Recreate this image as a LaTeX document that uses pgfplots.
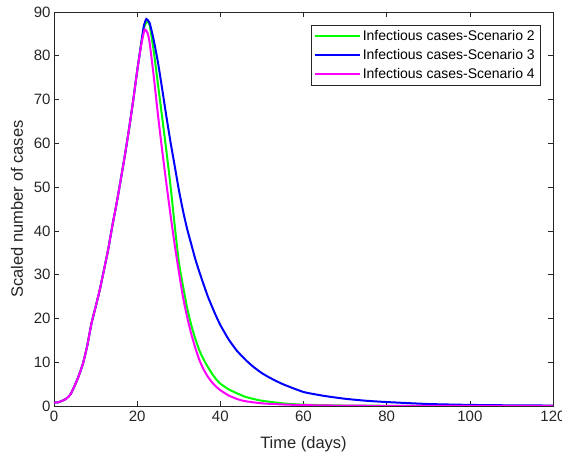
\documentclass[border=0pt]{standalone}
\usepackage{pgfplots}
\pgfplotsset{compat=1.18}
\usepackage{fontspec}
\setmainfont{Liberation Sans}
\definecolor{axcol}{RGB}{38,38,38}
\begin{document}
\begin{tikzpicture}
\begin{axis}[
  scale only axis,
  width=499bp, height=394bp,
  xmin=0, xmax=120, ymin=0, ymax=90,
  xtick={0,20,...,120}, ytick={0,10,...,90},
  tick align=inside,
  major tick length=5bp,
  axis line style={axcol, line width=0.6bp},
  every tick/.style={axcol, line width=0.6bp},
  tick label style={font=\fontsize{15bp}{17bp}\selectfont, text=axcol},
  xticklabel style={yshift=-2bp},
  /pgf/number format/assume math mode=true,
  xlabel={Time (days)}, ylabel={Scaled number of cases},
  label style={font=\fontsize{16.5bp}{19bp}\selectfont, text=axcol},
  xlabel style={at={(axis description cs:0.5,-0.0964)}, anchor=center},
  ylabel style={at={(axis description cs:-0.0741,0.5)}, anchor=center},
  legend cell align=left,
  legend style={at={(1,1)}, anchor=north east, xshift=-13bp, yshift=-13bp,
    draw=axcol, line width=0.5bp, font=\fontsize{14bp}{16bp}\selectfont,
    inner sep=3bp, row sep=3.5bp},
  legend image code/.code={\draw[#1, line width=2bp] (0bp,0bp) -- (45bp,0bp);},
]
\addplot[color={rgb,1:red,0;green,1;blue,0}, line width=2bp, smooth, tension=0.3] coordinates {
(0,0.78)(1,0.85)(2,1.2)(3,1.7)(4,2.7)(5,4.7)(6,7.0)(7,9.8)(8,13.8)(9,18.8)(10,22.6)(11,26.5)(12,31.0)(13,35.6)(14,41.0)(15,46.0)(16,51.4)(17,57.0)(18,63.0)(19,69.5)(20,76.5)(21,83.0)(21.7,86.6)(22.4,87.9)(23,87.0)(24,81.0)(25,73.5)(26,66.0)(27,58.5)(28,50.5)(29,41.5)(30,33.0)(31,27.5)(32,22.5)(33,18.5)(34,15.3)(35,12.6)(36,10.6)(37,8.9)(38,7.4)(39,6.1)(40,5.1)(42,3.8)(44,2.9)(46,2.1)(48,1.6)(50,1.2)(55,0.6)(60,0.3)(70,0.1)(80,0.05)(100,0.03)(120,0.02)
};
\addlegendentry{Infectious cases-Scenario 2}
\addplot[color={rgb,1:red,0;green,0;blue,1}, line width=2bp, smooth, tension=0.3] coordinates {
(0,0.78)(1,0.85)(2,1.2)(3,1.7)(4,2.7)(5,4.7)(6,7.0)(7,9.8)(8,13.8)(9,18.8)(10,22.6)(11,26.5)(12,31.0)(13,35.6)(14,41.0)(15,46.0)(16,51.4)(17,57.0)(18,63.0)(19,69.5)(20,76.5)(21,83.0)(21.6,86.8)(22.2,88.4)(23,87.5)(24,83.5)(25,78.5)(26,72.5)(27,66.3)(28,60.4)(29,55.0)(30,49.5)(31,44.7)(32,40.5)(33,37.0)(34,33.5)(35,30.5)(36,27.7)(37,25.0)(38,22.7)(39,20.5)(40,18.5)(42,15.2)(44,12.6)(46,10.6)(48,8.9)(50,7.5)(52,6.4)(55,5.0)(60,3.2)(65,2.3)(70,1.65)(75,1.2)(80,0.9)(90,0.45)(100,0.25)(110,0.15)(120,0.1)
};
\addlegendentry{Infectious cases-Scenario 3}
\addplot[color={rgb,1:red,1;green,0;blue,1}, line width=2bp, smooth, tension=0.3] coordinates {
(0,0.78)(1,0.85)(2,1.2)(3,1.7)(4,2.7)(5,4.7)(6,7.0)(7,9.8)(8,13.8)(9,18.8)(10,22.6)(11,26.5)(12,31.0)(13,35.6)(14,41.0)(15,46.0)(16,51.4)(17,57.0)(18,63.0)(19,69.5)(20,76.5)(21,82.6)(21.8,86.0)(22.5,85.2)(23,83.0)(24,75.2)(25,66.5)(26,58.5)(27,51.0)(28,43.8)(29,37.0)(30,30.8)(31,25.0)(32,20.4)(33,16.5)(34,13.2)(35,10.4)(36,8.3)(37,6.7)(38,5.4)(39,4.4)(40,3.6)(42,2.4)(44,1.6)(46,1.1)(50,0.6)(55,0.35)(60,0.2)(70,0.08)(80,0.04)(100,0.03)(120,0.02)
};
\addlegendentry{Infectious cases-Scenario 4}
\end{axis}
\pgfresetboundingbox
\path ([xshift=-54bp,yshift=-50bp]current axis.south west) rectangle ([xshift=9bp,yshift=12bp]current axis.north east);
\end{tikzpicture}
\end{document}
